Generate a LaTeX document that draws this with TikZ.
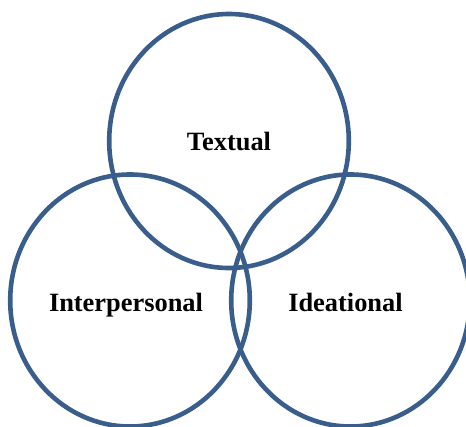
\documentclass[tikz,border=0pt]{standalone}
\usepackage{fontspec}
\setmainfont{Liberation Serif}
\definecolor{ringblue}{HTML}{3A5E8C}
\begin{document}
\begin{tikzpicture}[x=1pt,y=-1pt,
  ring/.style={draw=ringblue,line width=4.6pt},
  lbl/.style={anchor=base,inner sep=0pt,font=\fontsize{26.4}{30}\selectfont\bfseries}]
\useasboundingbox (0,0) rectangle (466,427);
\draw[ring] (229,141) ellipse [x radius=119.8, y radius=127];
\draw[ring] (130,300.5) ellipse [x radius=119.8, y radius=126];
\draw[ring] (350.5,300.5) ellipse [x radius=119.3, y radius=126];
\node[lbl] (textual) at (229,150.7) {Textual};
\node[lbl] (inter) at (126,311.7) {Interpersonal};
\node[lbl] (idea) at (345.5,311.7) {Ideational};
\end{tikzpicture}
\end{document}
